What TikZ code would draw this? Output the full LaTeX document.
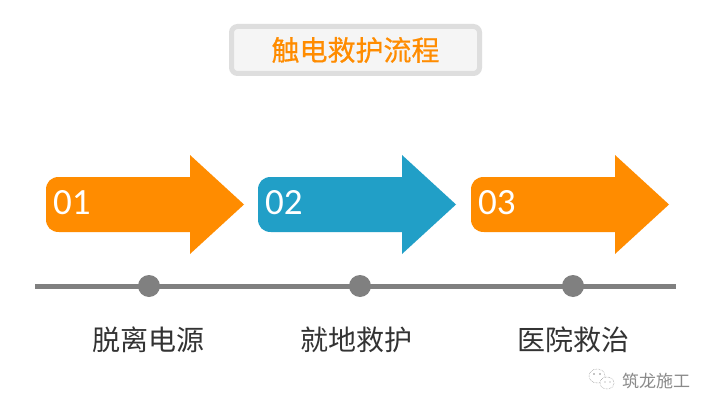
\documentclass[tikz,border=0pt]{standalone}
\usepackage{fontspec}
\setmainfont{Carlito}
\newfontfamily\cjk{Noto Sans CJK SC}
\newfontfamily\cjkheavy[FakeBold=0.6]{Noto Sans CJK SC}
\definecolor{orangeA}{HTML}{FF8C00}
\definecolor{blueA}{HTML}{219FC7}
\definecolor{lineA}{HTML}{808080}
\definecolor{boxEdge}{HTML}{DEDEDE}
\definecolor{boxFill}{HTML}{F5F5F5}
\definecolor{textA}{HTML}{333333}
\definecolor{markA}{HTML}{8A8A8A}
\tikzset{
  titlebox/.style={draw=boxEdge,fill=boxFill,line width=5pt,rounded corners=6pt,minimum width=248pt,minimum height=47pt,inner sep=0pt,text=orangeA,font=\cjkheavy\fontsize{28}{30}\selectfont},
  numlabel/.style={text=white,font=\fontsize{37}{40}\selectfont,inner sep=0pt,anchor=west},
  steplabel/.style={text=textA,font=\cjk\fontsize{28}{30}\selectfont,inner sep=0pt},
  dot/.style={circle,fill=lineA,minimum size=22pt,inner sep=0pt}
}
\newcommand{\bigarrow}[2]{%
  \fill[#2] (#1+13,177) -- (#1+144,177) -- (#1+144,155) -- (#1+198,204.5) -- (#1+144,254) -- (#1+144,232) -- (#1+13,232)
    .. controls (#1+5,232) and (#1,227) .. (#1,219) -- (#1,190) .. controls (#1,182) and (#1+5,177) .. (#1+13,177) -- cycle;}
\begin{document}
\begin{tikzpicture}[x=1pt,y=-1pt]
\useasboundingbox (0,0) rectangle (712,412);
\fill[white] (0,0) rectangle (712,412);
\node[titlebox] (title) at (355.5,50) {触电救护流程};
\bigarrow{46}{orangeA}
\bigarrow{258}{blueA}
\bigarrow{471}{orangeA}
\node[numlabel] (n1) at (53,203) {01};
\node[numlabel] (n2) at (265,203) {02};
\node[numlabel] (n3) at (478,203) {03};
\coordinate (ls) at (35,286);
\coordinate (le) at (676,286);
\draw[lineA,line width=5pt] (ls) -- (le);
\node[dot] (d1) at (149,286) {};
\node[dot] (d2) at (360,286) {};
\node[dot] (d3) at (573,286) {};
\node[steplabel] (s1) at (148.5,340) {脱离电源};
\node[steplabel] (s2) at (356,340) {就地救护};
\node[steplabel] (s3) at (573,340) {医院救治};
\node[text=markA,font=\cjk\fontsize{17}{18}\selectfont,inner sep=0pt] (wm) at (656,381) {筑龙施工};
\draw[markA,line width=0.5pt,densely dotted] (597,376) ellipse (8 and 7);
\draw[markA,line width=0.5pt,densely dotted,fill=white] (607,383) ellipse (7 and 6);
\fill[markA] (594,374) circle (0.8) (600,374) circle (0.8) (605,382) circle (0.7) (610,382) circle (0.7);
\end{tikzpicture}
\end{document}
